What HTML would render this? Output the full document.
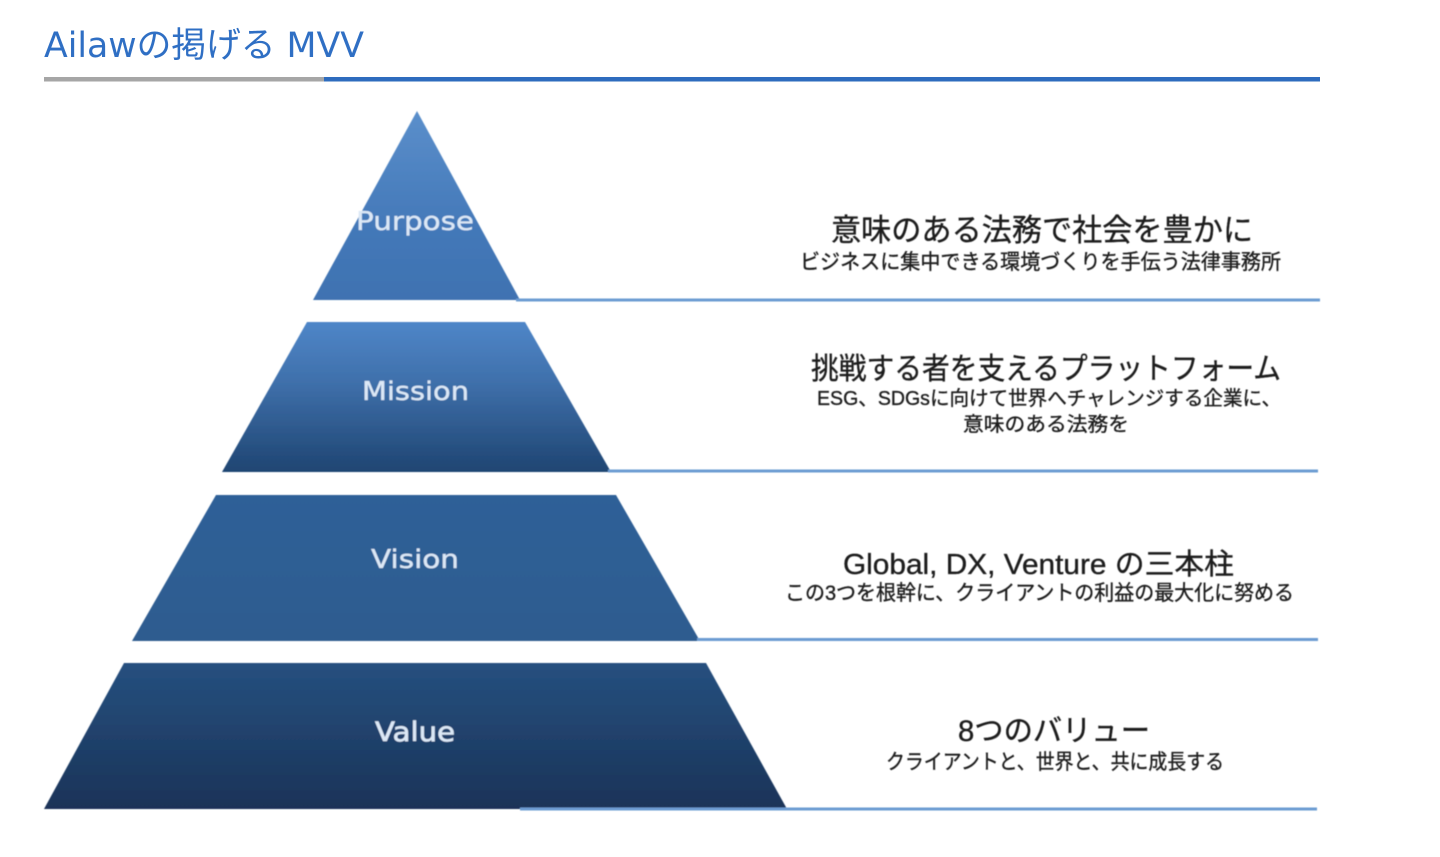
<!DOCTYPE html>
<html lang="ja">
<head>
<meta charset="utf-8">
<title>Ailawの掲げる MVV</title>
<style>
html,body{margin:0;padding:0;background:#fff;width:1440px;height:857px;overflow:hidden}
svg{display:block}
.t{font-family:"Liberation Sans","Noto Sans CJK JP",sans-serif;fill:#1e1e1e;stroke:#1e1e1e;stroke-width:.35;text-anchor:start}
.l{font-family:"DejaVu Sans","Liberation Sans",sans-serif;fill:#dce8f6;stroke:#dce8f6;stroke-width:.3;text-anchor:start}
</style>
</head>
<body>
<svg width="1440" height="857" viewBox="0 0 1440 857" xmlns="http://www.w3.org/2000/svg">
<defs>
<linearGradient id="g1" x1="0" y1="0" x2="0" y2="1"><stop offset="0" stop-color="#5b8fcb"/><stop offset="0.6" stop-color="#4479b9"/><stop offset="1" stop-color="#3f72b1"/></linearGradient>
<linearGradient id="g2" x1="0" y1="0" x2="0" y2="1"><stop offset="0" stop-color="#4f86c8"/><stop offset="0.4" stop-color="#3f70ab"/><stop offset="1" stop-color="#1f4572"/></linearGradient>
<linearGradient id="g3" x1="0" y1="0" x2="0" y2="1"><stop offset="0" stop-color="#2f6098"/><stop offset="1" stop-color="#2f5c8f"/></linearGradient>
<linearGradient id="g4" x1="0" y1="0" x2="0" y2="1"><stop offset="0" stop-color="#26507f"/><stop offset="1" stop-color="#1a3358"/></linearGradient>
<filter id="b" x="-5%" y="-5%" width="110%" height="110%"><feGaussianBlur stdDeviation="0.55"/></filter>
</defs>

<text x="44" y="57" font-size="35" textLength="320" lengthAdjust="spacingAndGlyphs" style="font-family:'DejaVu Sans','Noto Sans CJK JP',sans-serif;fill:#2f6fc4">Ailawの掲げる MVV</text>
<rect x="44" y="77" width="280" height="4.5" fill="#a6a6a6"/>
<rect x="324" y="77" width="996" height="4.5" fill="#2e6cbe"/>

<g filter="url(#b)">
<polygon points="417,111 520,300 313,300" fill="url(#g1)"/>
<polygon points="307,322 525,322 611,472 222,472" fill="url(#g2)"/>
<polygon points="216,495 616,495 700,641 132,641" fill="url(#g3)"/>
<polygon points="124,663 706,663 787,809 44,809" fill="url(#g4)"/>

<rect x="516" y="298.500" width="804" height="3" fill="#6c9bd2"/>
<rect x="608" y="469.500" width="710" height="3" fill="#6c9bd2"/>
<rect x="697" y="638" width="621" height="3" fill="#6c9bd2"/>
<rect x="520" y="807.500" width="797" height="3" fill="#6c9bd2"/>

<text class="l" x="356" y="230" font-size="26" textLength="118" lengthAdjust="spacingAndGlyphs">Purpose</text>
<text class="l" x="362" y="400" font-size="26" textLength="107" lengthAdjust="spacingAndGlyphs">Mission</text>
<text class="l" x="371" y="568" font-size="26" textLength="88" lengthAdjust="spacingAndGlyphs">Vision</text>
<text class="l" x="375" y="741" font-size="27" textLength="80" lengthAdjust="spacingAndGlyphs" style="stroke-width:.6">Value</text>

<text class="t" x="831" y="241" font-size="31" textLength="422" lengthAdjust="spacingAndGlyphs">意味のある法務で社会を豊かに</text>
<text class="t" x="800" y="269" font-size="21" textLength="481" lengthAdjust="spacingAndGlyphs">ビジネスに集中できる環境づくりを手伝う法律事務所</text>

<text class="t" x="811" y="379" font-size="30" textLength="470" lengthAdjust="spacingAndGlyphs">挑戦する者を支えるプラットフォーム</text>
<text class="t" x="817" y="405" font-size="20" textLength="464" lengthAdjust="spacingAndGlyphs">ESG、SDGsに向けて世界へチャレンジする企業に、</text>
<text class="t" x="963" y="431" font-size="20" textLength="166" lengthAdjust="spacingAndGlyphs">意味のある法務を</text>

<text class="t" x="843" y="574" font-size="29" textLength="391" lengthAdjust="spacingAndGlyphs">Global, DX, Venture の三本柱</text>
<text class="t" x="785" y="600" font-size="21" textLength="509" lengthAdjust="spacingAndGlyphs">この3つを根幹に、クライアントの利益の最大化に努める</text>

<text class="t" x="958" y="741" font-size="30" textLength="192" lengthAdjust="spacingAndGlyphs">8つのバリュー</text>
<text class="t" x="886" y="769" font-size="21" textLength="338" lengthAdjust="spacingAndGlyphs">クライアントと、世界と、共に成長する</text>
</g>
</svg>
</body>
</html>
